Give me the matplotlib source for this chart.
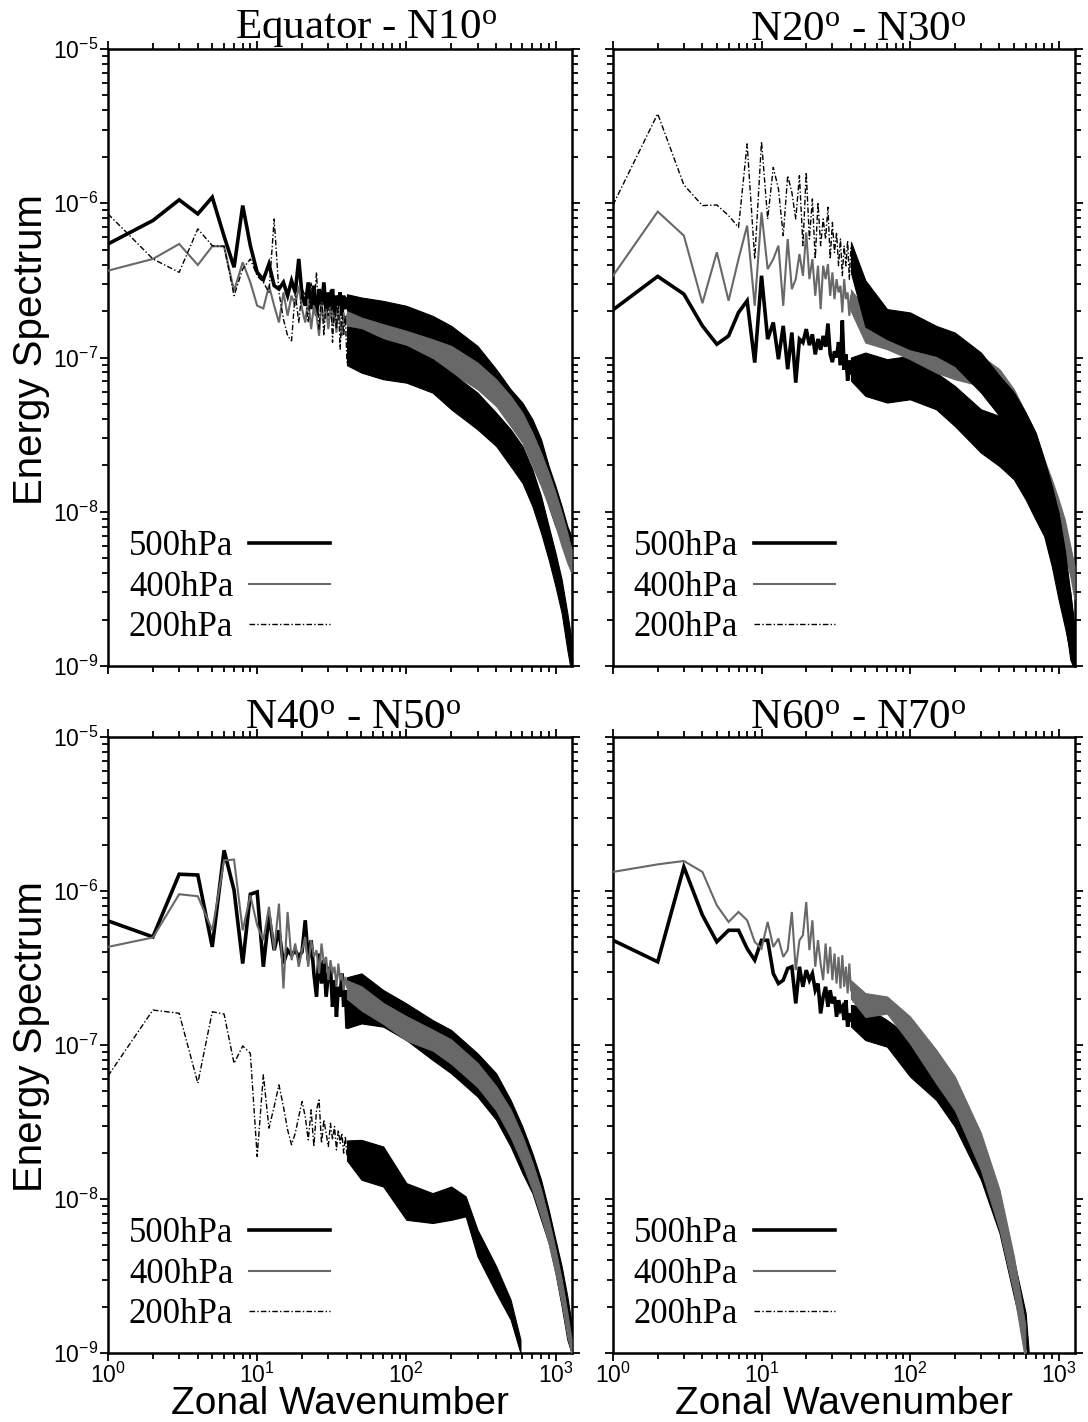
import numpy as np
import matplotlib
matplotlib.use("Agg")
import matplotlib.pyplot as plt
from matplotlib.ticker import FuncFormatter, NullFormatter, LogLocator

plt.rcParams['mathtext.fontset'] = 'custom'
plt.rcParams['mathtext.rm'] = 'Liberation Serif'
plt.rcParams['mathtext.sf'] = 'Liberation Sans'
plt.rcParams['mathtext.it'] = 'Liberation Serif:italic'
plt.rcParams['mathtext.bf'] = 'Liberation Serif:bold'

# ---------------- data (log10 of energy spectrum) ----------------
titles = ['Equator - N10$^{\\mathrm{o}}$', 'N20$^{\\mathrm{o}}$ - N30$^{\\mathrm{o}}$',
          'N40$^{\\mathrm{o}}$ - N50$^{\\mathrm{o}}$', 'N60$^{\\mathrm{o}}$ - N70$^{\\mathrm{o}}$']
levels = ['500hPa', '400hPa', '200hPa']
k_low = list(range(1, 41))

# Equator - N10 (wavenumbers 1..40, then envelope of the dense part)
eq_low_500 = [-6.264, -6.112, -5.978, -6.069, -5.961, -6.214, -6.415, -6.015, -6.275, -6.448,
              -6.495, -6.394, -6.534, -6.556, -6.513, -6.599, -6.502, -6.578, -6.361, -6.599,
              -6.664, -6.513, -6.686, -6.534, -6.729, -6.556, -6.664, -6.513, -6.708, -6.578,
              -6.686, -6.556, -6.729, -6.599, -6.664, -6.578, -6.729, -6.599, -6.686, -6.621]
eq_low_400 = [-6.437, -6.361, -6.264, -6.400, -6.279, -6.279, -6.567, -6.383, -6.513, -6.664,
              -6.682, -6.534, -6.664, -6.773, -6.578, -6.729, -6.599, -6.664, -6.534, -6.686,
              -6.773, -6.621, -6.816, -6.664, -6.729, -6.859, -6.643, -6.773, -6.686, -6.816,
              -6.664, -6.794, -6.708, -6.838, -6.686, -6.773, -6.859, -6.708, -6.794, -6.729]
eq_low_200 = [-6.069, -6.361, -6.448, -6.166, -6.275, -6.279, -6.599, -6.426, -6.361, -6.470,
              -6.513, -6.578, -6.102, -6.578, -6.751, -6.859, -6.892, -6.578, -6.773, -6.556,
              -6.599, -6.773, -6.513, -6.664, -6.448, -6.816, -6.578, -6.859, -6.621, -6.729,
              -6.556, -6.902, -6.664, -6.816, -6.643, -6.946, -6.686, -6.859, -6.729, -7.032]
eq_kband = [40, 50, 70, 100, 150, 200, 300, 400, 500, 600, 700, 800, 900, 1000, 1100, 1200, 1280]
eq_hi_500 = [-6.590, -6.611, -6.633, -6.665, -6.730, -6.795, -6.925, -7.076, -7.206, -7.293, -7.401,
             -7.531, -7.704, -7.834, -7.964, -8.094, -8.159]
eq_lo_500 = [-6.720, -6.827, -6.849, -6.882, -6.946, -7.011, -7.141, -7.271, -7.401, -7.509, -7.639,
             -7.791, -7.964, -8.094, -8.180, -8.289, -8.375]
eq_hi_400 = [-6.700, -6.741, -6.784, -6.827, -6.882, -6.925, -7.033, -7.141, -7.250, -7.358, -7.488,
             -7.618, -7.748, -7.877, -8.007, -8.137, -8.245]
eq_lo_400 = [-6.800, -6.903, -6.946, -6.990, -7.044, -7.098, -7.206, -7.315, -7.444, -7.553, -7.704,
             -7.834, -7.964, -8.094, -8.224, -8.332, -8.397]
eq_hi_200 = [-6.800, -6.817, -6.882, -6.925, -7.011, -7.098, -7.228, -7.358, -7.466, -7.574, -7.726,
             -7.899, -8.094, -8.267, -8.440, -8.657, -8.830]
eq_lo_200 = [-7.050, -7.098, -7.141, -7.163, -7.228, -7.336, -7.466, -7.574, -7.704, -7.813, -7.964,
             -8.137, -8.310, -8.484, -8.657, -8.895, -9.050]

# N20 - N30
n2_low_500 = [-6.691, -6.474, -6.589, -6.795, -6.914, -6.860, -6.708, -6.632, -7.033, -6.470,
              -6.881, -6.773, -7.011, -6.795, -7.076, -6.838, -7.163, -6.881, -6.903, -6.816,
              -6.920, -6.850, -6.980, -6.880, -6.950, -6.860, -6.930, -6.780, -6.980, -7.030,
              -6.960, -7.000, -6.900, -7.050, -6.760, -7.080, -6.980, -7.150, -7.020, -7.100]
n2_low_400 = [-6.470, -6.054, -6.210, -6.648, -6.318, -6.632, -6.362, -6.145, -6.665, -6.059,
              -6.427, -6.362, -6.275, -6.665, -6.232, -6.557, -6.492, -6.329, -6.470, -6.189,
              -6.492, -6.362, -6.600, -6.405, -6.686, -6.405, -6.492, -6.394, -6.600, -6.448,
              -6.622, -6.492, -6.578, -6.535, -6.708, -6.492, -6.622, -6.578, -6.730, -6.600]
n2_low_200 = [-6.011, -5.420, -5.881, -6.015, -6.011, -6.080, -6.156, -5.615, -6.362, -5.600,
              -6.102, -5.767, -5.907, -6.210, -5.821, -5.929, -6.102, -5.821, -6.275, -5.799,
              -6.232, -5.972, -6.362, -5.994, -6.275, -6.102, -6.232, -6.026, -6.362, -6.124,
              -6.319, -6.189, -6.405, -6.232, -6.470, -6.275, -6.405, -6.243, -6.492, -6.275]
n2_kband = [40, 50, 70, 100, 150, 200, 300, 400, 500, 600, 700, 800, 900, 1000, 1100, 1200, 1280]
n2_hi_500 = [-7.000, -6.968, -7.011, -6.989, -7.098, -7.184, -7.336, -7.379, -7.487, -7.639, -7.812,
             -7.920, -8.050, -8.180, -8.353, -8.526, -8.743]
n2_lo_500 = [-7.150, -7.249, -7.292, -7.271, -7.336, -7.444, -7.617, -7.704, -7.790, -7.920, -8.050,
             -8.158, -8.353, -8.569, -8.743, -8.916, -9.002]
n2_hi_400 = [-6.560, -6.686, -6.730, -6.795, -6.881, -6.924, -6.989, -7.076, -7.206, -7.357, -7.487,
             -7.660, -7.790, -7.920, -8.050, -8.223, -8.353]
n2_lo_400 = [-6.700, -6.903, -6.946, -7.011, -7.098, -7.141, -7.184, -7.357, -7.487, -7.617, -7.747,
             -7.877, -8.007, -8.137, -8.266, -8.418, -8.569]
n2_hi_200 = [-6.250, -6.500, -6.686, -6.708, -6.795, -6.838, -6.968, -7.119, -7.227, -7.357, -7.487,
             -7.660, -7.833, -8.007, -8.245, -8.526, -8.786]
n2_lo_200 = [-6.450, -6.800, -6.881, -6.946, -6.989, -7.054, -7.227, -7.379, -7.531, -7.704, -7.877,
             -8.050, -8.223, -8.440, -8.699, -8.959, -9.024]

# N40 - N50
n4_low_500 = [-6.194, -6.298, -5.891, -5.896, -6.363, -5.736, -5.995, -6.471, -6.021, -6.006,
              -6.492, -6.157, -6.384, -6.255, -6.471, -6.384, -6.417, -6.384, -6.428, -6.395,
              -6.190, -6.449, -6.319, -6.536, -6.687, -6.406, -6.601, -6.449, -6.687, -6.536,
              -6.492, -6.752, -6.579, -6.817, -6.622, -6.687, -6.536, -6.752, -6.644, -6.882]
n4_low_400 = [-6.363, -6.302, -6.021, -6.034, -6.255, -5.801, -5.796, -6.255, -6.028, -6.222,
              -6.320, -6.103, -6.384, -6.082, -6.633, -6.136, -6.449, -6.341, -6.492, -6.384,
              -6.298, -6.492, -6.319, -6.428, -6.384, -6.536, -6.341, -6.471, -6.428, -6.579,
              -6.449, -6.536, -6.492, -6.622, -6.471, -6.579, -6.536, -6.644, -6.557, -6.622]
n4_low_200 = [-7.201, -6.773, -6.794, -7.248, -6.784, -6.799, -7.119, -7.006, -7.054, -7.724,
              -7.194, -7.540, -7.400, -7.259, -7.400, -7.551, -7.648, -7.573, -7.465, -7.367,
              -7.465, -7.616, -7.421, -7.659, -7.421, -7.357, -7.638, -7.486, -7.573, -7.659,
              -7.508, -7.616, -7.529, -7.681, -7.551, -7.638, -7.573, -7.702, -7.594, -7.724]
n4_kband = [40, 50, 70, 100, 150, 200, 300, 400, 500, 600, 700, 800, 900, 1000, 1100, 1200, 1280]
n4_hi_500 = [-6.560, -6.535, -6.643, -6.730, -6.838, -6.903, -7.054, -7.184, -7.357, -7.530, -7.703,
             -7.875, -8.070, -8.265, -8.438, -8.632, -8.805]
n4_lo_500 = [-6.890, -6.860, -6.881, -6.968, -7.097, -7.184, -7.335, -7.486, -7.659, -7.832, -7.962,
             -8.135, -8.286, -8.481, -8.697, -8.913, -9.000]
n4_hi_400 = [-6.580, -6.619, -6.727, -6.813, -6.900, -6.964, -7.116, -7.267, -7.418, -7.591, -7.764,
             -7.937, -8.132, -8.326, -8.521, -8.737, -8.910]
n4_lo_400 = [-6.700, -6.776, -6.863, -6.971, -7.036, -7.122, -7.273, -7.425, -7.598, -7.771, -7.944,
             -8.117, -8.290, -8.484, -8.679, -8.895, -9.000]
n4_kband_200 = [40, 50, 70, 100, 150, 200, 250, 300, 400, 500, 582]
n4_hi_200 = [-7.620, -7.616, -7.659, -7.897, -7.962, -7.919, -7.983, -8.200, -8.437, -8.654, -8.913]
n4_lo_200 = [-7.750, -7.875, -7.919, -8.135, -8.156, -8.135, -8.113, -8.373, -8.610, -8.783, -9.000]

# N60 - N70 (200hPa lies below the plotted range)
n6_low_500 = [-6.320, -6.460, -5.844, -6.157, -6.330, -6.255, -6.255, -6.374, -6.449, -6.320,
              -6.320, -6.536, -6.601, -6.579, -6.503, -6.492, -6.730, -6.492, -6.622, -6.514,
              -6.579, -6.536, -6.644, -6.601, -6.795, -6.687, -6.622, -6.752, -6.644, -6.730,
              -6.687, -6.817, -6.709, -6.773, -6.752, -6.838, -6.709, -6.882, -6.795, -6.838]
n6_low_400 = [-5.876, -5.827, -5.805, -5.876, -6.093, -6.201, -6.136, -6.190, -6.330, -6.374,
              -6.201, -6.363, -6.309, -6.428, -6.384, -6.136, -6.514, -6.320, -6.287, -6.071,
              -6.384, -6.190, -6.492, -6.319, -6.471, -6.579, -6.341, -6.536, -6.363, -6.579,
              -6.406, -6.601, -6.428, -6.633, -6.417, -6.622, -6.492, -6.665, -6.471, -6.644]
n6_low_200 = []
n6_kband_500 = [40, 50, 70, 100, 150, 200, 300, 400, 500, 600, 628]
n6_hi_500 = [-6.740, -6.751, -6.838, -6.946, -7.141, -7.313, -7.616, -8.005, -8.394, -8.740, -8.980]
n6_lo_500 = [-6.880, -6.968, -7.011, -7.205, -7.357, -7.530, -7.875, -8.221, -8.632, -8.950, -9.050]
n6_kband_400 = [40, 50, 70, 100, 150, 200, 300, 400, 500, 597]
n6_hi_400 = [-6.580, -6.663, -6.685, -6.815, -7.031, -7.204, -7.571, -7.939, -8.371, -8.820]
n6_lo_400 = [-6.700, -6.818, -6.796, -6.991, -7.250, -7.423, -7.812, -8.201, -8.612, -9.050]

# ---------------- assemble ----------------
panels = [
    dict(low=[eq_low_500, eq_low_400, eq_low_200],
         bands=[(eq_kband, eq_lo_500, eq_hi_500), (eq_kband, eq_lo_400, eq_hi_400), (eq_kband, eq_lo_200, eq_hi_200)]),
    dict(low=[n2_low_500, n2_low_400, n2_low_200],
         bands=[(n2_kband, n2_lo_500, n2_hi_500), (n2_kband, n2_lo_400, n2_hi_400), (n2_kband, n2_lo_200, n2_hi_200)]),
    dict(low=[n4_low_500, n4_low_400, n4_low_200],
         bands=[(n4_kband, n4_lo_500, n4_hi_500), (n4_kband, n4_lo_400, n4_hi_400), (n4_kband_200, n4_lo_200, n4_hi_200)]),
    dict(low=[n6_low_500, n6_low_400, n6_low_200],
         bands=[(n6_kband_500, n6_lo_500, n6_hi_500), (n6_kband_400, n6_lo_400, n6_hi_400), None]),
]
title_x = [0.556, 0.530, 0.528, 0.530]

colors = ['black', '#686868', 'black']
widths = [2.6, 1.5, 1.0]
styles = ['-', '-', (0, (4, 1.6, 1, 1.6))]
zorders = [2, 3, 4]

W, H = 1088, 1422
fig = plt.figure(figsize=(W / 100, H / 100), dpi=100)
pos = [(108, 49, 572, 666), (613, 49, 1075, 666), (108, 737, 572, 1353), (613, 737, 1075, 1353)]
axes = [fig.add_axes([x0 / W, 1 - y1 / H, (x1 - x0) / W, (y1 - y0) / H]) for (x0, y0, x1, y1) in pos]

fmt = FuncFormatter(lambda v, p: r'$\mathsf{10^{%d}}$' % int(round(np.log10(v))))

for i, ax in enumerate(axes):
    P = panels[i]
    handles = []
    for j in range(3):
        vals = P['low'][j]
        kk = k_low[:len(vals)]
        ln, = ax.plot(kk, np.power(10.0, vals), color=colors[j], lw=widths[j], ls=styles[j],
                      zorder=zorders[j], label=levels[j], solid_joinstyle='miter')
        handles.append(ln)
        b = P['bands'][j]
        if b is not None:
            kb, lo, hi = b
            ax.fill_between(kb, np.power(10.0, lo), np.power(10.0, hi), facecolor=colors[j],
                            edgecolor=colors[j], lw=0.8, zorder=zorders[j])
    ax.set_xscale('log')
    ax.set_yscale('log')
    ax.set_xlim(1, 1290)
    ax.set_ylim(1e-9, 1e-5)
    ax.xaxis.set_major_locator(LogLocator(base=10, numticks=10))
    ax.yaxis.set_major_locator(LogLocator(base=10, numticks=10))
    ax.xaxis.set_minor_locator(LogLocator(base=10, subs=np.arange(2, 10), numticks=20))
    ax.yaxis.set_minor_locator(LogLocator(base=10, subs=np.arange(2, 10), numticks=20))
    ax.xaxis.set_major_formatter(fmt)
    ax.yaxis.set_major_formatter(fmt)
    ax.xaxis.set_minor_formatter(NullFormatter())
    ax.yaxis.set_minor_formatter(NullFormatter())
    ax.tick_params(which='both', direction='out', top=True, right=True, labelsize=16.5, width=1.3)
    ax.tick_params(which='major', length=6)
    ax.tick_params(which='minor', length=4)
    ax.tick_params(labelleft=(i % 2 == 0), labelbottom=(i >= 2), pad=1)
    for s in ax.spines.values():
        s.set_linewidth(1.8)
    ax.set_title(titles[i], fontsize=31, family='Liberation Serif', pad=6, x=title_x[i])
    ax.legend(handles=handles, loc='lower left', bbox_to_anchor=(0.045, 0.035), frameon=False,
              markerfirst=False, prop={'family': 'Liberation Serif', 'size': 25},
              handlelength=2.35, handletextpad=0.45, labelspacing=0.22,
              borderaxespad=0, borderpad=0)

for yc in (350, 1037):
    fig.text(31 / W, 1 - yc / H, 'Energy Spectrum', rotation=90, ha='center', va='center',
             fontsize=29, family='Liberation Sans')
for xc in (340, 844):
    fig.text(xc / W, 1 - 1414 / H, 'Zonal Wavenumber', ha='center', va='baseline',
             fontsize=28, family='Liberation Sans')

fig.savefig('out.png', dpi=100)
